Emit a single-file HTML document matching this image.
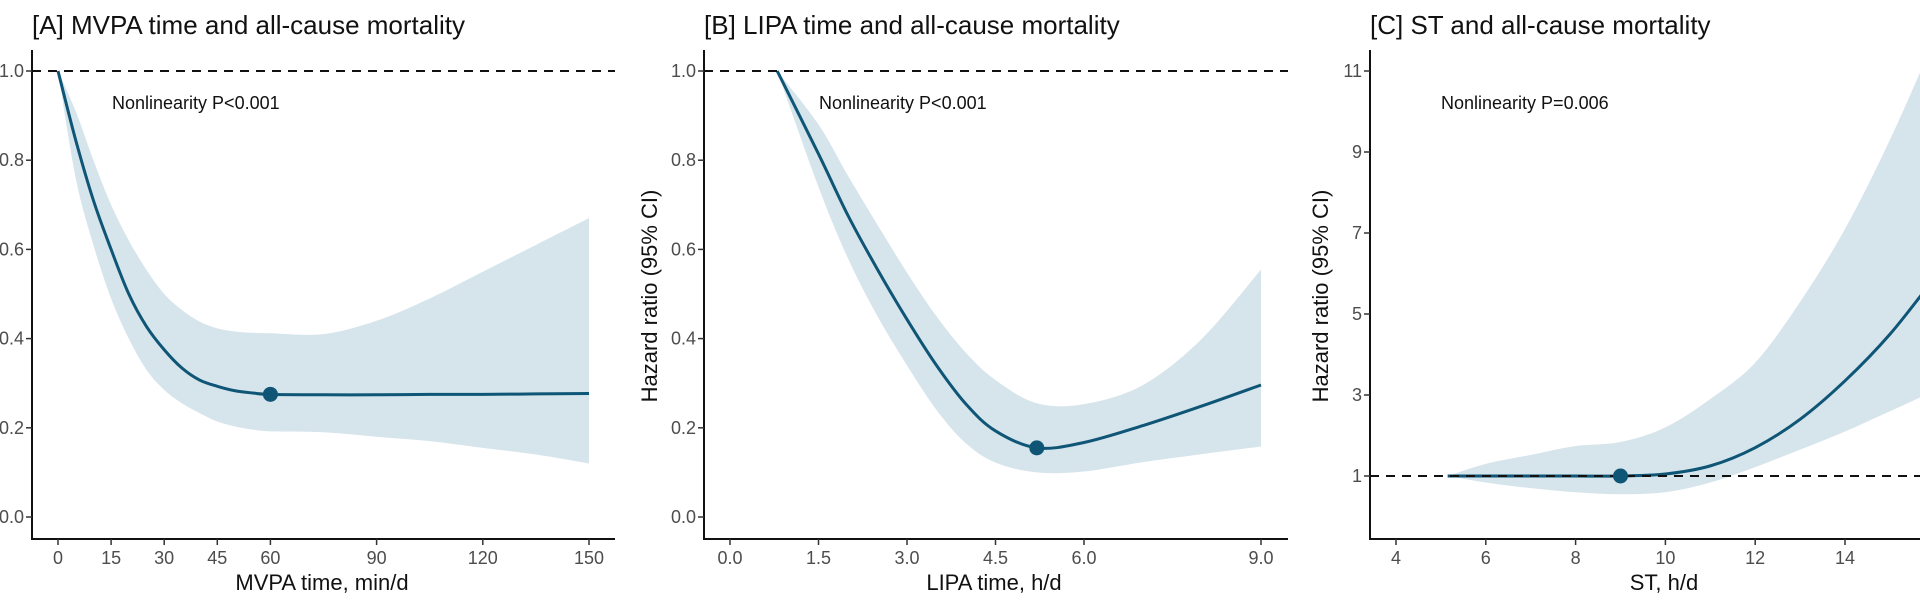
<!DOCTYPE html>
<html><head><meta charset="utf-8">
<style>
html,body{margin:0;padding:0;background:#fff;}
svg{display:block;font-family:"Liberation Sans",Arial,sans-serif;}
</style></head>
<body>
<svg id="chart" width="1920" height="603" viewBox="0 0 1920 603" xmlns="http://www.w3.org/2000/svg">
</svg>
<script>
// Panel A: MVPA
const aX = [0,5,10,15,20,25,30,35,40,45,50,55,60,75,90,105,120,135,150];
const aHR = [1.0,0.845,0.71,0.60,0.50,0.427,0.375,0.334,0.307,0.293,0.283,0.278,0.275,0.274,0.274,0.275,0.275,0.276,0.277];
const aUp = [1.0,0.91,0.80,0.70,0.62,0.554,0.50,0.464,0.438,0.423,0.416,0.413,0.412,0.41,0.44,0.49,0.55,0.61,0.67];
const aLo = [1.0,0.76,0.61,0.49,0.40,0.33,0.285,0.255,0.233,0.214,0.203,0.196,0.192,0.19,0.18,0.17,0.155,0.14,0.12];
const aRef = [60,0.275];
const aXTicks = [0,15,30,45,60,90,120,150];
const aYTicks = [0.0,0.2,0.4,0.6,0.8,1.0];
// Panel B: LIPA
const bX = [0.8,1.5,2.0,2.5,3.0,3.5,4.0,4.5,5.2,6.0,7.0,8.0,9.0];
const bHR = [1.0,0.814,0.676,0.555,0.443,0.34,0.253,0.193,0.155,0.167,0.205,0.249,0.296];
const bUp = [1.0,0.88,0.765,0.655,0.548,0.45,0.368,0.307,0.255,0.253,0.296,0.40,0.555];
const bLo = [1.0,0.74,0.58,0.45,0.34,0.24,0.165,0.122,0.1,0.102,0.123,0.141,0.158];
const bRef = [5.2,0.155];
const bXTicks = [0.0,1.5,3.0,4.5,6.0,9.0];
const bYTicks = [0.0,0.2,0.4,0.6,0.8,1.0];
// Panel C: ST
const cX = [5.15,6,7,8,9,10,11,12,13,14,15,16];
const cHR = [1.0,1.0,1.0,1.0,1.0,1.05,1.25,1.7,2.4,3.35,4.5,5.9];
const cUp = [1.0,1.3,1.52,1.74,1.84,2.2,2.9,3.8,5.3,7.1,9.3,11.8];
const cLo = [1.0,0.84,0.7,0.6,0.55,0.6,0.84,1.22,1.65,2.1,2.6,3.1];
const cRef = [9,1.0];
const cXTicks = [4,6,8,10,12,14];
const cYTicks = [1,3,5,7,9,11];

const NS="http://www.w3.org/2000/svg";
const svg=document.getElementById('chart');
function mk(tag,attrs,parent){const e=document.createElementNS(NS,tag);for(const k in attrs)e.setAttribute(k,attrs[k]);(parent||svg).appendChild(e);return e;}
function smooth(pts){let d='M'+pts[0][0]+','+pts[0][1];for(let i=0;i<pts.length-1;i++){const p0=pts[i-1]||pts[i],p1=pts[i],p2=pts[i+1],p3=pts[i+2]||p2;const c1x=p1[0]+(p2[0]-p0[0])/6,c1y=p1[1]+(p2[1]-p0[1])/6,c2x=p2[0]-(p3[0]-p1[0])/6,c2y=p2[1]-(p3[1]-p1[1])/6;d+=' C'+c1x+','+c1y+' '+c2x+','+c2y+' '+p2[0]+','+p2[1];}return d;}
function smoothRev(pts){return smooth(pts.slice().reverse()).replace(/^M/,'L');}

function panel(cfg){
  const g=mk('g',{});
  
  
  const sx=v=>cfg.x0px+(v-cfg.x0)*cfg.pxX;
  const sy=v=>cfg.y0px-(v-cfg.y0)*cfg.pxY;
  const t=mk('text',{x:cfg.axisX,y:34,'font-size':26,fill:'#111'},g);t.textContent=cfg.title;
  
  const band=mk('path',{d:smooth(cfg.xs.map((x,i)=>[sx(x),sy(cfg.up[i])]))+' '+smoothRev(cfg.xs.map((x,i)=>[sx(x),sy(cfg.lo[i])]))+' Z',fill:'#d6e4ec'},g);
  
  const line=mk('path',{d:smooth(cfg.xs.map((x,i)=>[sx(x),sy(cfg.hr[i])])),fill:'none',stroke:'#0e5576','stroke-width':3},g);
  
  const ref=mk('line',{x1:cfg.axisX,x2:cfg.axisRight,y1:sy(cfg.refY),y2:sy(cfg.refY),stroke:'#111','stroke-width':2,'stroke-dasharray':'9,7'},g);
  
  const dot=mk('circle',{cx:sx(cfg.ref[0]),cy:sy(cfg.ref[1]),r:7.5,fill:'#0e5576'},g);
  
  mk('line',{x1:cfg.axisX,x2:cfg.axisX,y1:50,y2:540,stroke:'#111','stroke-width':2},g);
  mk('line',{x1:cfg.axisX-1,x2:cfg.axisRight,y1:539,y2:539,stroke:'#111','stroke-width':2},g);
  cfg.xt.forEach(v=>{
    mk('line',{x1:sx(v),x2:sx(v),y1:539,y2:545,stroke:'#333','stroke-width':1.5},g);
    const tl=mk('text',{x:sx(v),y:564,'font-size':18,fill:'#4d4d4d','text-anchor':'middle'},g);tl.textContent=cfg.xfmt(v);
    
  });
  cfg.yt.forEach(v=>{
    mk('line',{x1:cfg.axisX-6,x2:cfg.axisX,y1:sy(v),y2:sy(v),stroke:'#333','stroke-width':1.5},g);
    const tl=mk('text',{x:cfg.axisX-8,y:sy(v)+6,'font-size':18,fill:'#4d4d4d','text-anchor':'end'},g);tl.textContent=cfg.yfmt(v);
    
  });
  const xt=mk('text',{x:cfg.xTitleX,y:590,'font-size':22,fill:'#111','text-anchor':'middle'},g);xt.textContent=cfg.xTitle;
  
  if(cfg.yTitleX){const yt=mk('text',{x:cfg.yTitleX,y:296,'font-size':22,fill:'#111','text-anchor':'middle',transform:'rotate(-90 '+cfg.yTitleX+' 296)'},g);yt.textContent='Hazard ratio (95% CI)';
  }
  const nl=mk('text',{x:cfg.nlX,y:109,'font-size':18,fill:'#111'},g);nl.textContent=cfg.nl;
  
}
panel({name:'panel-a-mvpa',title:'[A] MVPA time and all-cause mortality',xs:aX,hr:aHR,up:aUp,lo:aLo,ref:aRef,refY:1.0,xt:aXTicks,yt:aYTicks,
  x0:0,x0px:58,pxX:3.54,y0:0,y0px:517,pxY:446,axisX:32,axisRight:615,xfmt:v=>String(v),yfmt:v=>v.toFixed(1),
  xTitle:'MVPA time, min/d',xTitleX:322,yTitleX:0,nl:'Nonlinearity P<0.001',nlX:112});
panel({name:'panel-b-lipa',title:'[B] LIPA time and all-cause mortality',xs:bX,hr:bHR,up:bUp,lo:bLo,ref:bRef,refY:1.0,xt:bXTicks,yt:bYTicks,
  x0:0,x0px:730,pxX:59,y0:0,y0px:517,pxY:446,axisX:704,axisRight:1288,xfmt:v=>v.toFixed(1),yfmt:v=>v.toFixed(1),
  xTitle:'LIPA time, h/d',xTitleX:994,yTitleX:657,nl:'Nonlinearity P<0.001',nlX:819});
panel({name:'panel-c-st',title:'[C] ST and all-cause mortality',xs:cX,hr:cHR,up:cUp,lo:cLo,ref:cRef,refY:1,xt:cXTicks,yt:cYTicks,
  x0:4,x0px:1396,pxX:44.9,y0:1,y0px:476,pxY:40.5,axisX:1370,axisRight:1930,xfmt:v=>String(v),yfmt:v=>String(v),
  xTitle:'ST, h/d',xTitleX:1664,yTitleX:1328,nl:'Nonlinearity P=0.006',nlX:1441});
</script>
</body></html>
